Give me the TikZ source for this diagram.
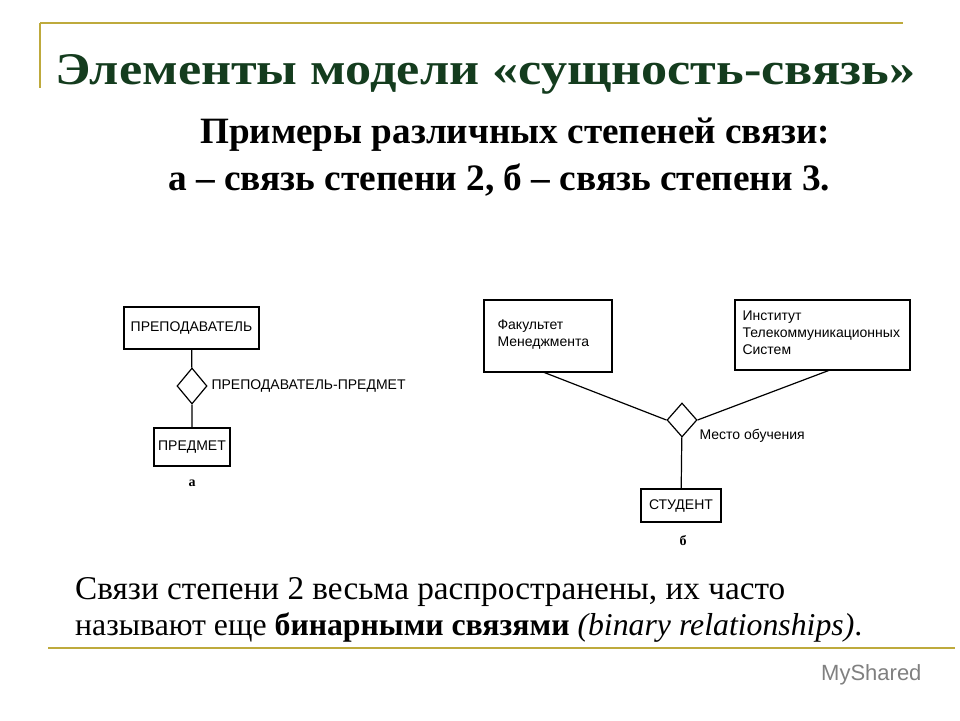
\documentclass[tikz,border=0pt]{standalone}
\usepackage{fontspec}
\usepackage{graphicx}
\setmainfont{Liberation Serif}
\newfontfamily\dsans{Liberation Sans}
\usetikzlibrary{shapes.geometric}
\definecolor{gold}{RGB}{190,170,60}
\definecolor{dgreen}{RGB}{20,60,30}
\begin{document}
\begin{tikzpicture}[x=1pt,y=-1pt,
  ent/.style={draw,line width=1.2pt,inner sep=0pt},
  rel/.style={draw,diamond,line width=1.2pt,inner sep=0pt,minimum width=#1},
  lab/.style={font=\dsans\fontsize{14}{17}\selectfont},
  conn/.style={line width=1.2pt}]
\useasboundingbox (0,0) rectangle (960,720);
\draw[gold,line width=1.5pt] (40,23) -- (903,23);
\draw[gold,line width=1.5pt] (40,23) -- (40,88);
\draw[gold,line width=1.5pt] (48,648) -- (955,648);
\node[text=dgreen,inner sep=0pt,anchor=base west] (title) at (55,84) {\resizebox{860pt}{30pt}{\bfseries\fontsize{40}{44}\selectfont Элементы модели «сущность-связь»}};
\node[inner sep=0pt,anchor=base west] (s1) at (200,143) {\resizebox{630pt}{!}{\bfseries\fontsize{27}{30}\selectfont Примеры различных степеней связи:}};
\node[inner sep=0pt,anchor=base west] (s2) at (168,190) {\resizebox{662pt}{!}{\bfseries\fontsize{27}{30}\selectfont а – связь степени 2, б – связь степени 3.}};
% left
\node[ent,minimum width=135,minimum height=42,lab] (prep) at (191.5,328) {ПРЕПОДАВАТЕЛЬ};
\node[rel=30,minimum height=36] (d1) at (192,386) {};
\node[lab,anchor=west] (l1) at (208,386) {ПРЕПОДАВАТЕЛЬ-ПРЕДМЕТ};
\node[ent,minimum width=76,minimum height=38,lab] (pred) at (192,447) {ПРЕДМЕТ};
\node[font=\bfseries\fontsize{14}{16}\selectfont] (a) at (192,483) {а};
\draw[conn] (prep) -- (d1) -- (pred);
% right
\node[ent,minimum width=128,minimum height=72] (fak) at (548,336) {};
\node[lab,anchor=north west,align=left] (ft) at (494,316) {Факультет\\Менеджмента};
\node[ent,minimum width=175,minimum height=70] (inst) at (822.5,335) {};
\node[lab,anchor=north west,align=left] (it) at (739,307) {Институт\\Телекоммуникационных\\Систем};
\node[rel=30,minimum height=34] (d2) at (682,420) {};
\node[lab,anchor=west] (l2) at (696,436) {Место обучения};
\node[ent,minimum width=80,minimum height=33,lab] (stud) at (681,505.5) {СТУДЕНТ};
\node[font=\bfseries\fontsize{14}{16}\selectfont] (b) at (683,541) {б};
\coordinate (f1) at (543,372);
\draw[conn] (f1) -- (d2.west);
\coordinate (i1) at (830,370);
\draw[conn] (i1) -- (d2.east);
\draw[conn] (d2) -- (stud);
% text
\node[inner sep=0pt,anchor=base west] (t1) at (75,599) {\resizebox{710pt}{!}{\fontsize{25}{30}\selectfont Связи степени 2 весьма распространены, их часто}};
\node[inner sep=0pt,anchor=base west] (t2) at (75,635) {\resizebox{787pt}{!}{\fontsize{25}{30}\selectfont называют еще \textbf{бинарными связями} \textit{(binary relationships)}.}};
\node[anchor=east,text=gray,font=\dsans\fontsize{22}{24}\selectfont] (ms) at (925,675) {MyShared};
\end{tikzpicture}
\end{document}
